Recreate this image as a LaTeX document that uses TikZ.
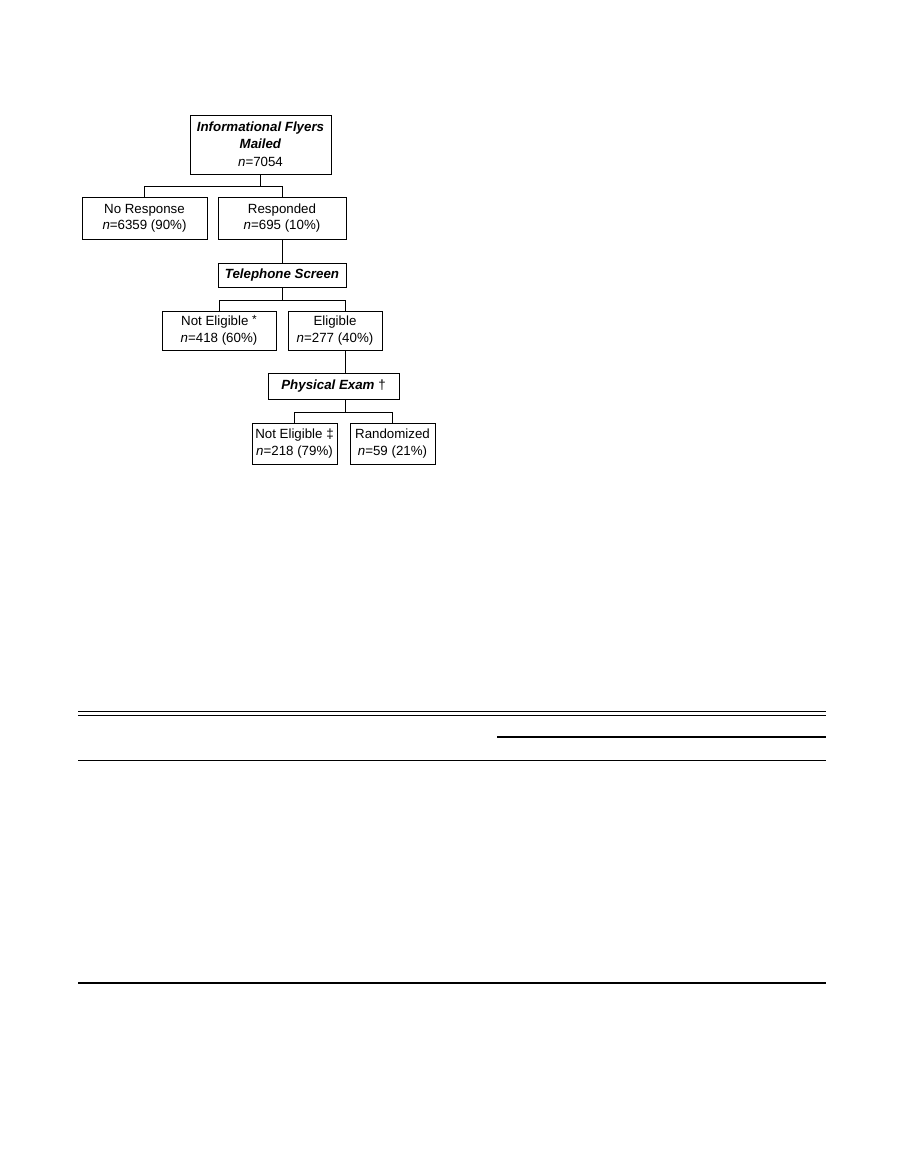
\documentclass[tikz,border=0pt]{standalone}
\usepackage{fontspec}
\setmainfont{Liberation Sans}
\newcommand{\pxu}{0.6763pt}
\begin{document}
\begin{tikzpicture}[x=0.6763pt,y=-0.6763pt,
  fbox/.style={draw,line width=0.65pt,align=center,inner sep=0pt,
    font=\fontsize{9}{10.5}\selectfont},
  conn/.style={line width=0.55pt}]
\useasboundingbox[fill=white] (0,0) rectangle (905,1175);
% boxes
\node[fbox,minimum width=141*\pxu,minimum height=59*\pxu] (mail) at (260.5,144.5)
  {\textbf{\textit{Informational Flyers}}\\[0.5pt]\textbf{\textit{Mailed}}\\[2pt]\textit{n}=7054};
\node[fbox,minimum width=125*\pxu,minimum height=42*\pxu] (nores) at (144.5,218)
  {No Response\\[0.5pt]\textit{n}=6359 (90\%)};
\node[fbox,minimum width=128*\pxu,minimum height=42*\pxu] (resp) at (282,218)
  {Responded\\[0.5pt]\textit{n}=695 (10\%)};
\node[fbox,minimum width=128*\pxu,minimum height=24*\pxu] (tel) at (282,275)
  {\textbf{\textit{Telephone Screen}}};
\node[fbox,minimum width=114*\pxu,minimum height=39*\pxu] (ne1) at (219,330.5)
  {Not Eligible \smash{\raisebox{0.3ex}{\footnotesize *}}\\[0.5pt]\textit{n}=418 (60\%)};
\node[fbox,minimum width=94*\pxu,minimum height=39*\pxu] (elig) at (335,330.5)
  {Eligible\\[0.5pt]\textit{n}=277 (40\%)};
\node[fbox,minimum width=131*\pxu,minimum height=26*\pxu] (pe) at (333.5,386)
  {\textbf{\textit{Physical Exam}} †};
\node[fbox,minimum width=85*\pxu,minimum height=41*\pxu] (ne2) at (294.5,443.5)
  {Not Eligible ‡\\[0.5pt]\textit{n}=218 (79\%)};
\node[fbox,minimum width=85*\pxu,minimum height=41*\pxu] (rand) at (392.5,443.5)
  {Randomized\\[0.5pt]\textit{n}=59 (21\%)};
% junctions
\coordinate (j1) at (260.5,186);
\coordinate (j2) at (282,300);
\coordinate (ex) at (345,0);
\coordinate (j3) at (345,412);
% connectors
\draw[conn] (mail.south) -- (j1);
\draw[conn] (nores.north) -- (nores.north |- j1) -- (resp.north |- j1) -- (resp.north);
\draw[conn] (resp.south) -- (tel.north);
\draw[conn] (tel.south) -- (j2);
\draw[conn] (ne1.north) -- (ne1.north |- j2) -- (ex |- j2) -- (ex |- elig.north);
\draw[conn] (ex |- elig.south) -- (ex |- pe.north);
\draw[conn] (ex |- pe.south) -- (j3);
\draw[conn] (ne2.north) -- (ne2.north |- j3) -- (rand.north |- j3) -- (rand.north);
% table rules
\coordinate (tl1) at (78,711.7);
\coordinate (tr1) at (826,711.7);
\coordinate (tl2) at (78,715.3);
\coordinate (tr2) at (826,715.3);
\coordinate (sl) at (497,737);
\coordinate (sr) at (826,737);
\coordinate (ml) at (78,760.7);
\coordinate (mr) at (826,760.7);
\coordinate (bl) at (78,982.7);
\coordinate (br) at (826,982.7);
\draw[line width=0.7pt] (tl1) -- (tr1);
\draw[line width=0.7pt] (tl2) -- (tr2);
\draw[line width=1.2pt] (sl) -- (sr);
\draw[line width=0.9pt] (ml) -- (mr);
\draw[line width=1.4pt] (bl) -- (br);
\end{tikzpicture}
\end{document}
